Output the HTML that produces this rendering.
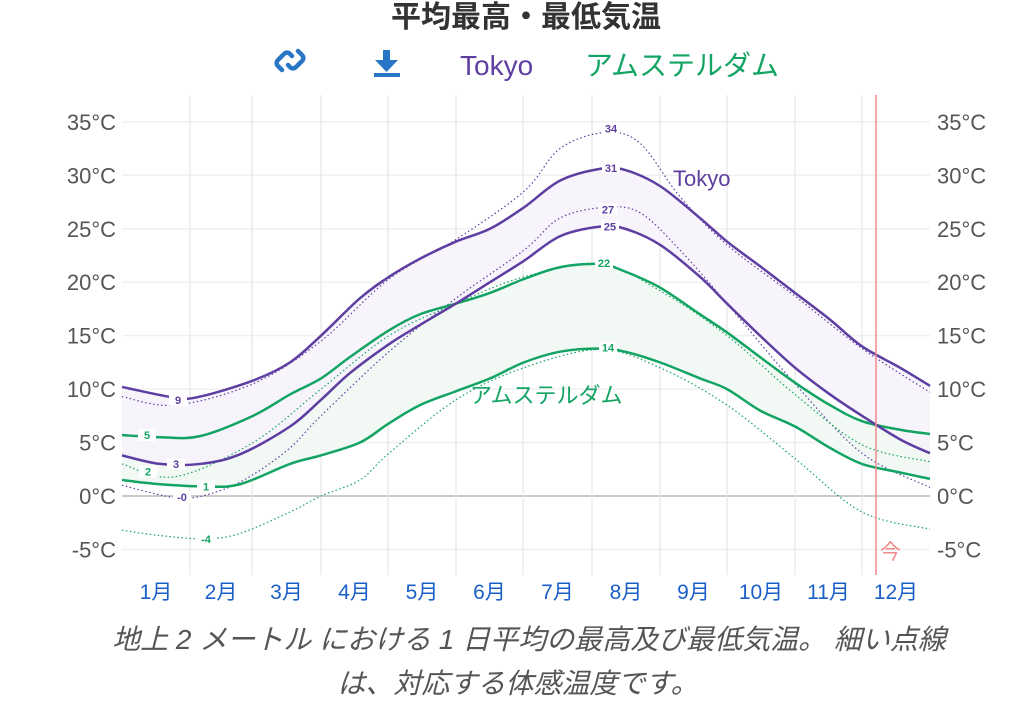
<!DOCTYPE html>
<html><head><meta charset="utf-8"><style>
body{margin:0;background:#fff;width:1021px;height:718px;overflow:hidden;font-family:"Liberation Sans","Noto Sans CJK JP",sans-serif}
</style></head><body>
<svg id="s" width="1021" height="718" xmlns="http://www.w3.org/2000/svg" font-family="Liberation Sans, Noto Sans CJK JP, sans-serif">
<text x="526" y="27" text-anchor="middle" font-size="30" font-weight="bold" fill="#333">平均最高・最低気温</text>
<g fill="none" stroke="#2a76c6" stroke-width="4.5" stroke-linecap="round">
<path d="M282,70 l-4,-4 a4,4 0 0 1 0,-6 l6,-6 a4,4 0 0 1 6,0 l2,2"/>
<path d="M298,51 l4,4 a4,4 0 0 1 0,6 l-6,6 a4,4 0 0 1 -6,0 l-2,-2"/>
</g>
<g fill="#2a76c6">
<rect x="383" y="50" width="7" height="12"/><polygon points="375,60 398,60 386.5,72"/><rect x="374" y="73" width="26" height="4"/>
</g>
<text x="460" y="75" font-size="28" fill="#5e3ea1">Tokyo</text>
<text x="585" y="75" font-size="28" fill="#13a463">アムステルダム</text>
<g id="grid"></g>
<g id="series"></g>
<line x1="876" y1="95" x2="876" y2="575" stroke="#f08a8a" stroke-width="1.5"/>
<text x="880" y="559" font-size="21" fill="#f08a8a">今</text>
<text x="673" y="186" font-size="22" fill="#5e3ea1">Tokyo</text>
<text x="470" y="403" font-size="22" fill="#13a463">アムステルダム</text>
<g id="lbl" font-size="11" font-weight="bold" text-anchor="middle"></g>
<text x="529" y="649" text-anchor="middle" font-size="28" font-style="italic" fill="#555">地上 2 メートル における 1 日平均の最高及び最低気温。 細い点線</text>
<text x="518" y="693" text-anchor="middle" font-size="28" font-style="italic" fill="#555">は、対応する体感温度です。</text>
</svg>
<script>
var NS="http://www.w3.org/2000/svg";
function el(p,t,a,txt){var e=document.createElementNS(NS,t);for(var k in a)e.setAttribute(k,a[k]);if(txt!==undefined)e.textContent=txt;p.appendChild(e);return e;}
function Y(t){return 496-t*10.69;}
var g=document.getElementById('grid');
for(var t=-5;t<=35;t+=5){var y=Y(t);
 el(g,'line',{x1:122,x2:930,y1:y,y2:y,stroke:t==0?'#aaa':'#f0f0f0','stroke-width':t==0?1.2:1.5});
 var s=t+'°C';
 el(g,'text',{x:116,y:y+8,'text-anchor':'end','font-size':22,fill:'#555'},s);
 el(g,'text',{x:937,y:y+8,'font-size':22,fill:'#555'},s);}
var vx=[190,252,321,388,456,523,592,660,727,795,862];
vx.forEach(function(x){el(g,'line',{x1:x,x2:x,y1:95,y2:575,stroke:'#e6e6e6','stroke-width':1.2});});
var bounds=[122].concat(vx).concat([930]);
for(var m=0;m<12;m++){el(g,'text',{x:(bounds[m]+bounds[m+1])/2,y:599,'text-anchor':'middle','font-size':21,fill:'#1a5fc8'},(m+1)+'月');}
function pts(a){var r=[];for(var i=0;i<a.length;i+=2)r.push([a[i],Y(a[i+1])]);return r;}
function path(p){var d='M'+p[0][0]+','+p[0][1];for(var i=0;i<p.length-1;i++){var p0=p[i-1]||p[i],p1=p[i],p2=p[i+1],p3=p[i+2]||p2;
 d+=' C'+(p1[0]+(p2[0]-p0[0])/6)+','+(p1[1]+(p2[1]-p0[1])/6)+' '+(p2[0]-(p3[0]-p1[0])/6)+','+(p2[1]-(p3[1]-p1[1])/6)+' '+p2[0]+','+p2[1];}return d;}
function rev(p){var d='';for(var i=p.length-1;i>=0;i--)d+=' L'+p[i][0]+','+p[i][1];return d;}
var P='#5e3ea1',G='#13a463';
var TH=pts([122,10.2,175,9.2,200,9.3,253,10.8,290,12.5,321,15,360,18.5,389,20.5,420,22.2,456,23.8,490,25,524,27,560,29.5,600,30.6,625,30.5,660,29,700,26,727,23.8,760,21.5,795,19,830,16.5,862,14,900,12,930,10.3]);
var TL=pts([122,3.8,160,3,200,3,240,3.9,290,6.5,321,9,350,11.5,389,14.2,420,16,456,18,490,20,524,22,560,24.3,600,25.2,625,25,660,23.5,700,20.5,727,18,760,15,795,12,830,9.5,862,7.5,900,5.3,930,4]);
var AH=pts([122,5.7,160,5.5,200,5.6,253,7.5,290,9.5,321,11,350,13,389,15.5,420,17,456,18,490,19,524,20.3,560,21.4,600,21.7,625,21,660,19.5,700,17,727,15.3,760,13,795,10.6,830,8.5,862,7,900,6.2,930,5.8]);
var AL=pts([122,1.5,160,1.1,205,0.9,240,1.1,290,3,321,3.8,360,5,389,6.8,420,8.5,456,9.8,490,11,524,12.5,560,13.5,600,13.8,625,13.5,660,12.5,700,11,727,10,760,8,795,6.5,830,4.5,862,3,900,2.2,930,1.6]);
var THF=pts([122,9.3,175,8.5,253,10.5,321,14.5,389,20.3,456,24,524,28.5,560,32.5,605,34,640,33,680,28,727,23.5,795,18.7,862,13.8,930,9.7]);
var TLF=pts([122,1,180,-0.2,220,0.5,253,2,290,4.5,321,7.5,389,13.5,456,18.5,524,23,560,26,605,27,640,26.5,680,23,727,18,795,10.5,862,4,930,0.8]);
var AHF=pts([122,3,175,1.8,253,5,321,10,389,15,456,18,524,20.5,600,21.7,660,19.2,727,15,795,9.5,862,4.8,930,3.2]);
var ALF=pts([122,-3.2,160,-3.7,205,-4,240,-3.5,290,-1.5,321,0,360,1.5,389,4,456,9,524,12,600,13.7,660,12,727,8.5,795,3.5,862,-1.5,930,-3.1]);
var sg=document.getElementById('series');
el(sg,'path',{d:path(AH)+rev(AL)+'Z',fill:'#f2f9f5'});
el(sg,'path',{d:path(TH)+rev(TL)+'Z',fill:'#f6f3fb','fill-opacity':0.9});
[[THF,P],[TLF,P],[AHF,G],[ALF,G]].forEach(function(a){el(sg,'path',{d:path(a[0]),fill:'none',stroke:a[1],'stroke-width':1.2,'stroke-dasharray':'1.5,2.5'});});
[[AH,G],[AL,G],[TH,P],[TL,P]].forEach(function(a){el(sg,'path',{d:path(a[0]),fill:'none',stroke:a[1],'stroke-width':2.5});});
var lb=document.getElementById('lbl');
[[178,9,'9',P],[176,3,'3',P],[182,-0.1,'-0',P],[147,5.7,'5',G],[148,2.3,'2',G],[206,0.9,'1',G],[206,-4,'-4',G],[611,34.4,'34',P],[611,30.7,'31',P],[608,26.8,'27',P],[610,25.2,'25',P],[604,21.8,'22',G],[608,13.9,'14',G]].forEach(function(a){
 var y=Y(a[1]);el(lb,'rect',{x:a[0]-9,y:y-6,width:18,height:12,fill:'#fff'});el(lb,'text',{x:a[0],y:y+4,fill:a[3]},a[2]);});
</script>
</body></html>
